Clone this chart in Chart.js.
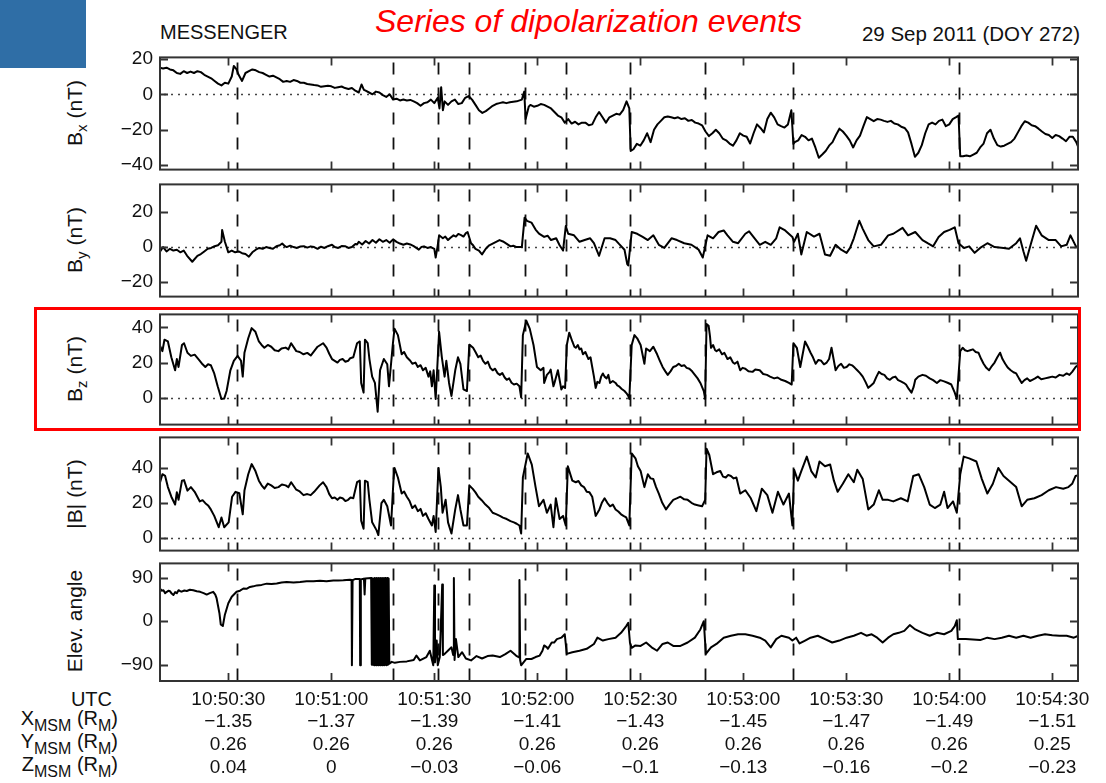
<!DOCTYPE html>
<html>
<head>
<meta charset="utf-8">
<script src="https://cdn.jsdelivr.net/npm/chart.js@4.4.1/dist/chart.umd.min.js"></script>
<style>
  html, body { margin: 0; padding: 0; background: #fff; }
  #wrap { position: relative; width: 1106px; height: 783px; overflow: hidden;
          font-family: 'Liberation Sans', Arial, sans-serif; color: #111; }
  #wrap canvas { position: absolute; left: 0; }
  .txt { position: absolute; white-space: nowrap; }
  .ytitle { position: absolute; white-space: nowrap; font-size: 21px;
            transform: translate(-50%, -50%) rotate(-90deg); }
  .ytitle sub { font-size: 15px; line-height: 0; vertical-align: -5px; }
  .rowlab sub { font-size: 16px; line-height: 0; vertical-align: -6px; }
  .rowlab { position: absolute; right: 988px; font-size: 20px; line-height: 23px;
            text-align: right; white-space: nowrap; }
</style>
</head>
<body>
<div id="wrap">
  <div style="position:absolute;left:0;top:0;width:86px;height:68px;background:#2f6ea6"></div>
  <div class="txt" style="left:160px;top:21px;font-size:20px">MESSENGER</div>
  <div class="txt" style="left:375px;top:3px;font-size:32px;font-style:italic;color:#f00">Series of dipolarization events</div>
  <div class="txt" style="right:26px;top:22px;font-size:20.5px">29 Sep 2011 (DOY 272)</div>

  <div class="ytitle" style="left:75px;top:113px">B<sub>x</sub> (nT)</div>
  <div class="ytitle" style="left:75px;top:240px">B<sub>y</sub> (nT)</div>
  <div class="ytitle" style="left:75px;top:369px">B<sub>z</sub> (nT)</div>
  <div class="ytitle" style="left:75px;top:494px">|B| (nT)</div>
  <div class="ytitle" style="left:75px;top:621px">Elev. angle</div>

  <div class="rowlab" style="top:688px;right:994px">UTC</div>
  <div class="rowlab" style="top:707px">X<sub>MSM</sub> (R<sub>M</sub>)</div>
  <div class="rowlab" style="top:730px">Y<sub>MSM</sub> (R<sub>M</sub>)</div>
  <div class="rowlab" style="top:753px">Z<sub>MSM</sub> (R<sub>M</sub>)</div>

  <div style="position:absolute;left:34px;top:307px;width:1047px;height:124px;border:3px solid #f00;box-sizing:border-box;z-index:5"></div>
</div>

<script>
// time in seconds after 10:50:00 UTC
const tMin = 10.1, tMax = 277.5;
const tickTimes = [30, 60, 90, 120, 150, 180, 210, 240, 270];
const utcLabels = ['10:50:30', '10:51:00', '10:51:30', '10:52:00', '10:52:30', '10:53:00', '10:53:30', '10:54:00', '10:54:30'];
const xMsm = [-1.35, -1.37, -1.39, -1.41, -1.43, -1.45, -1.47, -1.49, -1.51];
const yMsm = [0.26, 0.26, 0.26, 0.26, 0.26, 0.26, 0.26, 0.26, 0.25];
const zMsm = [0.04, 0, -0.03, -0.06, -0.1, -0.13, -0.16, -0.2, -0.23];
const eventTimes = [32.4, 77.9, 91.0, 100.2, 116.4, 128.4, 146.9, 168.9, 194.5, 242.7];

const bxTicks = [20, 0, -20, -40];
const byTicks = [20, 0, -20];
const bzTicks = [40, 20, 0];
const bmTicks = [40, 20, 0];
const elTicks = [90, 0, -90];

// [time, nT]
const bx = [[10,15],[11,14.5],[12,15],[13,14],[14,13.5],[15,12],[16,11.5],[17,13],[18,12],[19,12.8],[20,12],[21,13],[22,12.5],[23,11],[24,10],[25,9],[26,7.5],[27,6],[28,5],[29,6.5],[30,6],[31,10],[31.6,16],[32.4,14],[33,11],[34,7.5],[35,12],[36,13],[37,14],[38,13.5],[39,12.5],[40,12],[41,11],[42,10],[43,10.5],[44,9.5],[45,8.5],[46,7],[47,7.5],[48,7],[49,8],[50,7.5],[51,6.5],[52,6.5],[53,5.8],[54,5.5],[55,5.2],[56,5],[57,4.2],[58,4.5],[59,4.8],[60,4.5],[61,3.6],[62,4],[63,4.4],[64,3.5],[65,3],[66,3.5],[67,2],[68,1],[68.8,5.5],[69.5,2.5],[70,2],[71,1],[72,0],[73,1.5],[74,1],[75,-0.5],[76,-1.5],[77,0],[78,-3],[79,-2.5],[80,-3.5],[81,-3],[82,-3.5],[83,-3.2],[84,-4],[85,-5],[86,-6.5],[87,-5],[88,-4.5],[89,-3],[90,-5],[91,-2],[91.5,-8],[92,4],[92.5,-9],[93,-4],[94,-6],[95,-4],[96,-3],[97,-5.5],[98,-5],[99,-2],[100,-1],[101,-3],[102,-6],[103,-9],[104,-10.5],[105,-9.5],[106,-8],[107,-6.5],[108,-5.5],[109,-5],[110,-4.5],[111,-5],[112,-4.5],[113,-4.2],[114,-4],[115.5,-3],[116.2,1.5],[116.6,-14],[117.5,-7],[118,-6],[119,-7],[120,-6.5],[121,-5.5],[122,-6],[123,-7],[124,-8],[125,-10],[126,-12],[127,-13],[128,-16],[129,-14],[130,-16.5],[131,-15.5],[132,-17],[133,-16],[134,-16],[135,-17.5],[136,-17],[137,-13],[138,-10],[139,-13],[140,-16],[141,-13],[142,-12],[143,-11],[144,-11.5],[145,-9],[146,-4],[146.8,-8],[147.2,-32],[148,-31],[149,-28],[150,-29],[151,-26],[152,-22],[153,-27],[154,-20],[155,-17],[156,-15],[157,-13],[158,-12.5],[159,-13],[160,-13.5],[161,-13],[162,-14],[163,-13.5],[164,-15],[165,-14.5],[166,-16],[167,-16.5],[168,-17.5],[169,-21],[170,-23.6],[171,-22],[172,-20],[173,-22],[174,-25],[175,-26],[176,-27.8],[177,-29],[178,-26],[179,-22],[180,-23.3],[181,-24],[182,-27.8],[183,-22],[184,-17],[185,-19],[186,-21.5],[187,-14],[188,-10.4],[189,-13],[190,-17],[191,-18],[192,-18.8],[193,-17],[194,-9],[194.6,-28],[195,-27],[196,-26],[197,-23],[198,-24],[199,-26],[200,-25],[201,-30],[202,-35.8],[203,-34],[204,-32],[205,-29],[206,-27],[207,-23],[208,-19.4],[209,-21],[210,-23.3],[211,-26],[212,-30],[213,-26],[214,-23.3],[215,-18],[216,-12.9],[217,-14],[218,-15.2],[219,-14],[220,-14.3],[221,-15],[222,-15.6],[223,-15],[224,-16.5],[225,-17],[226,-18.3],[227,-19],[228,-21.5],[229,-28],[230,-35.3],[231,-33],[232,-28.7],[233,-22],[234,-17],[235,-16],[236,-17],[237,-15],[238,-14.3],[239,-18],[240,-17],[241,-14],[242,-12.9],[242.7,-12],[243.2,-35],[244,-35],[245,-34.5],[246,-35],[247,-34],[248,-33],[249,-30],[250,-27.8],[251,-22],[252,-20],[253,-25],[254,-28.7],[255,-29.5],[256,-29],[257,-28],[258,-27],[259,-25],[260,-21.5],[261,-18],[262,-15.2],[263,-16],[264,-17.5],[265,-18],[266,-19.4],[267,-21],[268,-22.4],[269,-23],[270,-24.7],[271,-23],[272,-23.6],[273,-25],[274,-26.5],[275,-24],[276,-24],[277,-27],[278,-32]];

const by = [[10,-3],[11,0],[12,-2.5],[13,-1],[14,-2],[15,-1.5],[16,-3],[17,-2],[18,-5],[19.5,-8.4],[21,-5],[22,-4],[23,-2.5],[24,-1],[25,-0.5],[26,0.5],[27,1],[28,3],[28.2,9.8],[29,3],[30,-3],[31,-2],[32,-3],[33,-2.5],[34,-3.5],[35,-4],[36,-5.5],[37,-3],[38,-1.5],[39,-0.5],[40,-1],[41,0],[42,-0.5],[43,-1],[44,0.5],[45,1],[45.7,2],[46.5,0.5],[47,0],[48,0.8],[49,0],[50,-0.5],[51,0.3],[52,0.5],[53,-0.3],[54,0.4],[55,0],[56,-1],[57,0.2],[58,-0.5],[59,0.5],[60.2,1.3],[61,0],[62,-0.5],[63,0.6],[64,0.5],[65,-0.5],[66,0],[67,1.8],[67.5,1.5],[68,3],[69,1.5],[70,3.5],[71,2],[72,4],[73,2.5],[74,4.5],[75,3],[76,4],[77,2.5],[78,4.4],[79,3],[80,2],[81,1.3],[82,2],[83,1.5],[84,0.5],[85.5,-1.5],[86.2,0],[87,0.4],[88,-0.5],[89,0],[90,-1],[90.4,-6],[91,1],[91.4,6.7],[92.5,5],[93.2,6],[94,4],[94.8,5.5],[95.6,6.7],[96.3,6],[97,7.5],[97.8,6.8],[98.5,6],[99.2,8],[99.7,8.6],[100.7,2.2],[101.3,1],[102,-1],[103,-2],[103.9,-4.2],[105,-1],[106,1],[107,2],[108,3],[109,4],[110,3.2],[111,2],[112.2,0.4],[113,0.8],[114,0],[115.5,0],[116.3,16.8],[117,15],[118.3,14],[119.5,10],[120.5,7.7],[122,5.8],[123,6.5],[124,4],[125.5,5],[126.5,1],[127.5,-2],[128.3,12],[129,7.6],[130.7,6.7],[132.3,3],[133.8,4],[135.4,5],[136.5,2.2],[138,-5],[139.6,5],[141.2,5],[142.8,4],[143.8,1.8],[145.4,-1.5],[146.2,-9.7],[146.5,-10.5],[147.5,8.6],[149.1,7.6],[150.7,5.8],[152.2,4],[153.8,6.7],[155.4,1.3],[157,-0.5],[159.1,5],[160.7,4],[162.8,2.2],[164.9,1.3],[167,-1.5],[168.2,-6],[169.6,6.7],[171.2,5],[172.8,8.6],[174.3,9.5],[175.4,6.7],[177,3],[178.5,2.2],[180.6,7.6],[181.7,9],[183.3,5],[184.8,1.3],[186.4,3],[188,1.3],[189.6,5],[190.6,11.3],[192.2,9.5],[194.3,5.8],[194.8,3],[195.9,7.6],[196.9,-4.2],[198.5,8.6],[200.6,6],[202.2,7.6],[203.8,-4.2],[205.3,-5],[206.9,1.3],[208.5,-1.5],[210.1,-3.3],[211.1,-0.5],[212.2,5],[213.8,15],[214.8,10.4],[216.4,4],[218,0.4],[220.1,1.3],[222.2,6.7],[223.7,7.6],[226.4,11],[228,6.7],[230.1,8.6],[232.2,4],[233.7,2.2],[235.3,0.4],[236.9,5.8],[238.5,8.6],[240.1,9.8],[241.6,11.3],[242.7,2.2],[244.3,-0.5],[245.8,0.4],[247.4,-3.3],[249,-0.5],[251.1,2.2],[253.2,0],[255.8,-0.5],[257.4,-1],[259.5,2.2],[260.6,5],[261.6,-2.4],[262.4,-7.8],[263.7,1.3],[265.3,12.2],[266.9,6.7],[269,4],[271,4],[272.6,0.4],[274.2,1.3],[275.3,6.7],[276.9,0.4],[278,0]];

const bz = [[10,30],[10.8,26.5],[11.4,33],[12.4,32],[13.4,23],[14.5,15.6],[15,22],[15.5,17.5],[16.5,30],[17.1,31],[18.1,25.6],[19.1,23.8],[20.2,24.5],[21.7,21],[22.5,19],[23.3,17.5],[24.1,19],[24.9,18.5],[25.9,13.8],[26.9,6.5],[28,-0.7],[28.8,-0.5],[29.5,3.8],[30.6,15.6],[31.6,21],[32.7,23.8],[33.7,21],[34.2,12],[34.7,25.6],[35.8,33.8],[36.8,39.6],[37.9,37.5],[38.9,32],[39.7,30],[40.5,28.4],[41.5,30],[42.5,29],[43.5,27],[44.6,26.5],[45.5,28],[46.7,28.5],[47.5,27.5],[48.3,31],[49.8,26.5],[50.8,26],[51.9,24.7],[53,25.5],[54,24],[55,26.5],[56,29],[57.6,31],[58.6,28.5],[59.4,25],[60.2,22],[61.8,20],[62.5,21.5],[63.3,22],[64.1,20.5],[64.9,21],[65.5,22.5],[66.4,23],[67.5,31],[68.3,32],[68.7,8.4],[69.4,2.9],[69.8,33],[70.6,31],[71.1,22],[71.9,12],[72.7,8.4],[73.5,-8],[74.2,15.6],[75.3,22],[76.3,19],[76.8,6.5],[77.9,30],[78.4,39.3],[79.4,35.6],[80.5,24.7],[81.2,26],[82,23],[83,21],[83.6,19.3],[84.5,20],[85.2,17.5],[86,18.5],[86.7,15.6],[87.5,17],[88.3,12],[88.8,15],[89.3,6.5],[89.8,15.6],[90.4,-0.7],[91.4,37.5],[92.2,23],[93,12],[93.5,21],[94.3,8.4],[95,1],[96.1,15.6],[96.9,23],[97.6,19.3],[98.5,4.7],[99.5,3.8],[100.2,30.2],[101.3,28.4],[102,26],[102.8,23],[103.5,24],[104.2,21],[104.9,19.3],[105.6,20.5],[106.3,17],[107,15.6],[107.7,16.5],[108.4,14],[109.1,13],[109.8,14],[110.5,11.5],[111.1,10.2],[111.8,11],[112.5,8.5],[113.2,7.5],[114,8],[114.8,6.5],[115.3,0.2],[115.8,35.6],[116.8,43.8],[117.8,39.3],[118.9,30],[119.9,17.5],[121,15.6],[121.8,17],[122,8.4],[122.8,13],[123.6,14.7],[123.9,16],[124.7,6.5],[125,8.4],[126,15.6],[127,4.7],[127.5,6.5],[128.1,5.5],[128.6,30],[129.3,37],[130.2,32],[130.8,29],[131.2,28.4],[131.8,30],[132.3,27.5],[132.8,28],[133.3,24.7],[134,26],[134.9,22],[135.5,23],[136,17.5],[136.5,12],[137,5.6],[137.5,9],[138.1,8.4],[138.6,12],[139.1,13.8],[139.6,12],[140.2,11],[140.7,13],[141.2,8.4],[142,9.5],[142.8,8.4],[143.3,7],[143.8,6.5],[144.6,5],[145.4,3.8],[146,2.5],[146.5,1],[146.8,-0.7],[147.5,30],[148.3,35.6],[149.1,33.8],[150.1,30],[151.2,19.3],[151.7,28],[152.8,26.5],[153.8,29],[154.9,24.7],[155.7,21],[156.5,17.5],[157.3,15],[158,13],[158.8,15],[159.6,17.5],[160.4,18],[161.2,19.3],[162,18],[162.8,18.5],[163.5,17],[164.3,16.5],[165.1,15],[165.9,13],[166.7,11],[167.5,8.4],[168.5,3.8],[168.9,-0.7],[169.3,42],[169.9,41],[170.3,35],[170.6,28.4],[171.2,30],[171.8,27],[172.2,26.5],[173,27.5],[173.8,24.7],[174.5,25.5],[175.4,22],[176.2,23],[177,20],[177.5,19.3],[178.3,20.5],[179.1,15.6],[179.8,17],[180.6,16.5],[181.5,15],[182.7,14.7],[183.5,16],[184.8,15.6],[185.8,13.5],[186.9,13],[187.8,12],[189,11],[190,11.5],[191.1,10.2],[192.2,9.5],[193.3,8.4],[194.1,7.5],[194.6,31],[195.6,28.4],[196.6,17.5],[198,32],[198.8,29],[199.6,25.6],[200.3,23],[201.1,19.3],[201.9,21.5],[202.7,21],[203.5,19],[204.3,20],[205,22],[205.7,28.4],[206.3,22],[206.9,15.6],[207.7,18],[208.5,19.3],[209.3,17],[210.1,17.5],[210.9,19],[211.7,18.4],[212.5,17],[213.2,15.6],[214,14],[214.8,12],[215.6,9],[216.4,5.6],[217.2,7],[218,8.4],[218.8,12],[219.5,14.7],[220.3,13.5],[221.1,13],[221.9,11],[222.7,10.2],[223.5,11.5],[224.3,12],[225.1,10],[225.9,9.3],[226.7,8.5],[227.4,7.5],[228.2,5],[229,2.9],[229.6,6],[230.1,10.2],[231,12],[232.2,13],[233.2,12.5],[234.3,11],[235.3,10],[236.4,8.4],[237.4,10],[238.5,9.3],[239.5,8.5],[240.6,7.5],[241.6,2.9],[242.2,-0.7],[243.2,26.5],[243.9,28.4],[244.6,27],[245.3,26.5],[246.1,27],[246.9,27.5],[247.7,26],[248.5,25.6],[249.3,22],[250,19.3],[250.8,17],[251.6,15.6],[252.4,18],[253.2,20],[254,23],[254.8,25.6],[255.5,22],[256.3,19.3],[257.1,17],[257.9,15.6],[258.7,14.5],[259.5,13.8],[260.3,11],[261.1,8.4],[261.9,10],[262.7,11],[263.5,9.5],[264.2,10.2],[265,11],[265.8,12],[266.8,10.5],[267.9,11],[269,11.5],[270,12],[271,11.5],[272.1,13],[273.2,12.5],[274.2,13.8],[275,13],[275.8,14.7],[276.8,17.5],[278,19]];

const bmag = [[10,30.9],[10.8,36.4],[11.6,35.4],[12.4,29],[13.4,23.5],[14.5,19],[15,26],[15.5,21.7],[16.5,32.7],[17.1,33],[18.1,27],[19.1,29],[20.2,26.3],[21.7,20.8],[22.5,21.5],[23.3,19.8],[24.1,18.5],[24.9,16.2],[25.9,12.5],[27.2,6],[28,11.6],[28.8,6],[30.1,8.8],[31.1,23.5],[32.1,26.3],[33.2,25.5],[34.2,13.4],[34.7,27],[35.8,36.4],[36.8,42.2],[37.9,38.2],[38.9,32.7],[39.7,30],[40.5,28.1],[41.5,31],[42.5,30],[43.5,28.5],[44.6,29],[45.6,30.5],[46.7,30],[47.5,29],[48.3,31.8],[49.8,27.5],[50.8,26.5],[51.9,24.4],[53,25],[54,24.4],[55,26.3],[56.6,30],[57.6,31.8],[58.6,29],[59.4,25],[60.2,22.6],[61,23],[61.8,21.7],[62.5,23],[63.3,22.6],[64.1,21],[64.9,21.7],[65.6,23],[66.4,22.6],[67.5,31.8],[68.3,32.7],[68.7,9.7],[69.4,5.1],[69.8,32.7],[70.6,31.8],[71.1,21.7],[71.9,8.8],[73.2,4.2],[73.7,1.5],[74.6,19.8],[75.3,21.7],[76.3,18],[77.4,7],[78.1,32.7],[78.4,40],[79.4,34.5],[80.5,25.3],[81.2,26.5],[82,23.5],[82.8,21],[83.6,17],[84.4,18.5],[85.2,15.2],[86,16.5],[86.7,12.5],[87.5,14],[88.3,10.7],[89.3,7],[89.8,12.5],[90.4,3.3],[91.2,40],[91.9,29],[92.4,14.3],[93.3,21.7],[94,8.8],[95,2.4],[96.1,16.2],[96.9,24.4],[97.6,16.2],[98.5,7],[99.5,7],[100.2,30],[101.2,28],[102,26],[102.8,23.5],[103.8,21.5],[104.9,19],[106,17],[107,14.3],[108,13.5],[109.1,12.5],[110,11.5],[111.1,10.7],[112.2,9.5],[113.2,8.8],[114,8],[114.8,7],[115.3,2.4],[115.8,34.5],[117.2,48.3],[118.4,41.9],[119.5,29],[120.5,18],[121.8,21.7],[122.8,14.3],[123.9,19],[124.7,6],[125.4,22.6],[126.5,10.7],[127.5,12.5],[128.3,7],[128.9,41],[130.2,32.7],[131.2,31.8],[132,32.5],[132.8,30],[133.6,29],[134.4,26.3],[135.2,26],[136,23.5],[137,12.5],[138.1,16.2],[138.8,20],[139.6,22.6],[140.4,20],[141.2,18],[142,19],[142.8,16.2],[143.6,15],[144.4,13.4],[145.1,12.5],[145.9,11.6],[146.8,7],[147.5,48.3],[148.6,45.5],[149.3,41],[150.1,38.2],[151.2,29],[152.2,36.4],[153,34],[153.8,33.6],[154.6,29],[155.4,25.3],[156.4,20],[157.5,16.2],[158.5,19],[159.6,21.7],[160.6,22.5],[161.7,23.5],[162.8,22],[163.8,21.7],[164.9,20],[165.9,19],[167,18.5],[168,18],[168.9,21.7],[169.3,51],[170.1,47.4],[171.2,36.4],[172.2,37.5],[173.3,38.2],[174.1,35],[174.9,34.5],[175.6,36],[176.4,35.4],[177.2,34],[178,34.5],[179.1,25.3],[180.6,27.2],[182.2,22.6],[183.8,15.2],[185.4,28.1],[187,24.4],[188.5,14.3],[190.1,26.3],[191.7,19],[193.3,25.3],[194.3,7],[194.8,39],[195.9,32.7],[196.9,38.2],[198.5,46.5],[199.8,38.2],[201.1,34.5],[202.2,43.7],[203.8,41],[205.3,42],[206.4,32.7],[207.5,26.3],[209,30.9],[210.6,36.4],[212.2,31.8],[213.2,39],[214.8,33.6],[216.4,16.2],[218,19],[219.5,27.2],[220.6,21.7],[222.2,21.7],[223.7,20.8],[225.9,22.6],[227.9,20.8],[229.5,35.4],[231.1,36.4],[232.7,29],[234.3,19],[235.8,17],[237.4,19],[238.5,26.3],[239.5,17],[241.1,20.8],[242.2,14.3],[243.2,36.4],[244.2,46.5],[245.8,45.5],[247.9,43.7],[249.5,33.6],[251.1,25.3],[252.7,30.9],[254.3,40],[255.8,35.4],[257.4,32.7],[259.5,29],[261.1,18],[262.7,21.7],[264.8,22.6],[266.9,24.4],[269,27.2],[271.1,29],[273.2,28.1],[274.7,29],[275.8,30.9],[276.8,35.4],[278,36]];

// [time, degrees]
const elev = [[10.1,67.5],[10.6,63],[11.1,64],[11.6,58],[12.1,60.7],[12.6,63],[13,62],[13.5,57],[14,54],[14.5,60],[15,58],[15.5,64],[16,62],[16.4,61],[17.2,63.5],[17.9,62.5],[18.8,65],[19.8,64],[20.8,62],[21.8,60.7],[22.8,58],[23.7,55],[24.6,58],[25.6,60.7],[26.2,55],[26.6,47],[27.4,17],[27.8,-6.7],[28.4,-10],[29,13.5],[30,37],[31,50.6],[32.4,60.7],[33.4,63],[34.4,67.5],[35.3,67],[36.3,70.8],[37.3,72],[38.3,74],[39.7,75],[41.2,77.6],[42.6,77],[44.1,78],[45.5,80],[47,81],[49,80],[50.9,81],[52.8,82.5],[54.8,82.3],[56.7,83.5],[58.6,82.5],[60.6,84.3],[62,84],[63.5,84.5],[65.4,85.7],[65.9,85],[66.0,-91],[66.2,85],[66.9,87],[68.3,87],[68.4,-91],[68.6,86],[69.5,88],[69.7,55],[69.9,88],[71.6,89],
  [71.8,-90],[72.0,88],[72.2,-90],[72.35,88],[72.5,-91],[72.65,89],[72.8,-90],[72.95,88],[73.1,-91],[73.25,89],[73.4,-90],[73.55,88],[73.7,-91],[73.85,89],[74.0,-90],[74.15,88],[74.3,-91],[74.45,89],[74.6,-90],[74.75,88],[74.9,-91],[75.05,89],[75.2,-90],[75.35,88],[75.5,-91],[75.65,89],[75.8,-90],[75.95,88],[76.1,-91],[76.3,89],[76.5,-90],[76.7,88],[76.9,-88],
  [77.6,-84],[78.5,-86],[80,-84],[82,-83],[84,-80],[84.8,-71],[85.8,-81],[87.7,-74],[88.7,-61],[89.7,-91],[90,74],[90.2,-85],[90.7,-40],[91,-91],[91.6,-74],[92.3,75.6],[92.5,-70],[93.1,-67],[94.1,-60],[95,-54],[95.5,-70],[95.7,89],[95.9,-80],[96.3,-37],[97,-74],[98.1,-64],[99.2,-77],[100.7,-81],[102.3,-72],[103.9,-77],[105.5,-72],[107,-71],[109.1,-74],[110.7,-68],[112.2,-61],[113.8,-71],[114.7,-75],[114.8,85],[115,-80],[115.3,-91],[116.8,-78],[118.3,-78],[119.5,-74],[120.7,-71],[121.5,-61],[122,-50],[122.8,-54],[123.1,-57],[124.2,-44],[124.9,-44],[125.7,-37],[127,-34],[128,-27],[128.6,-67.5],[130.2,-64],[132.3,-61],[134.4,-57],[136.5,-47],[137.5,-34],[139.1,-40],[140.7,-37],[142.8,-34],[144.4,-24],[145.9,-10],[146.5,-3.4],[147,-45],[147.5,-55],[148.6,-50],[150.1,-51],[151.7,-44],[153.3,-54],[154.9,-61],[156.5,-47],[158,-44],[159.6,-51],[161.7,-51],[163.8,-44],[165.9,-34],[167.5,-17],[168.5,0],[169.1,-67.5],[170.6,-54],[172.2,-47],[174.3,-34],[176.4,-30],[178.5,-27],[180.6,-27],[182.7,-30],[184.8,-34],[186.4,-40],[188,-54],[189.6,-37],[191.1,-30],[193.3,-34],[194.3,-40],[195.4,-34],[196.4,-46],[198,-40],[199.6,-34],[201.7,-30],[203.8,-37],[205.9,-44],[208,-40],[210.1,-34],[212.2,-30],[214.3,-24],[215.9,-30],[217.4,-27],[219,-34],[220.6,-44],[222.2,-34],[223.7,-27],[225.3,-24],[226.9,-20],[228.5,-8],[230.1,-17],[232.2,-24],[234.3,-30],[236.4,-24],[238.5,-27],[240.6,-20],[241.6,-10],[242.2,2],[242.5,-37],[244.8,-37],[246.9,-38],[249,-39],[251.1,-34],[253.2,-37],[255.3,-34],[257.4,-30],[259.5,-34],[261.6,-30],[263.7,-34],[265.8,-30],[267.9,-27],[270,-29],[272.1,-30],[274.2,-30],[276.3,-34],[277.6,-30]];

const fmt = v => (v < 0 ? '\u2212' : '') + Math.abs(v);
const FONT = "'Liberation Sans', Arial, sans-serif";
Chart.defaults.font.family = FONT;
Chart.defaults.color = '#111';

// boxes, inward ticks, dotted zero line and dashed event lines
const panelDecor = {
  id: 'panelDecor',
  beforeDatasetsDraw(chart, args, opts) {
    const { ctx, chartArea: a, scales } = chart;
    ctx.save();
    ctx.beginPath();
    ctx.rect(a.left, a.top, a.width, a.height);
    ctx.clip();
    if (opts.zero) {
      const y0 = Math.round(scales.y.getPixelForValue(0)) + 0.5;
      ctx.setLineDash([2, 5]);
      ctx.lineWidth = 1.6;
      ctx.strokeStyle = '#444';
      ctx.beginPath();
      ctx.moveTo(a.left + 4, y0);
      ctx.lineTo(a.right, y0);
      ctx.stroke();
    }
    ctx.setLineDash([12, 13]);
    ctx.lineWidth = 1.8;
    ctx.strokeStyle = '#111';
    eventTimes.forEach(t => {
      const px = Math.round(scales.x.getPixelForValue(t)) + 0.5;
      ctx.beginPath();
      ctx.moveTo(px, a.top + 5);
      ctx.lineTo(px, a.bottom);
      ctx.stroke();
    });
    ctx.restore();
  },
  afterDatasetsDraw(chart) {
    const { ctx, chartArea: a, scales } = chart;
    ctx.save();
    ctx.strokeStyle = '#333';
    ctx.lineWidth = 2;
    ctx.strokeRect(a.left, a.top, a.width, a.height);
    ctx.lineWidth = 1.8;
    ctx.beginPath();
    tickTimes.forEach(t => {
      const px = Math.round(scales.x.getPixelForValue(t)) + 0.5;
      ctx.moveTo(px, a.top); ctx.lineTo(px, a.top + 8);
      ctx.moveTo(px, a.bottom); ctx.lineTo(px, a.bottom - 8);
    });
    scales.y.ticks.forEach(tk => {
      const py = Math.round(scales.y.getPixelForValue(tk.value)) + 0.5;
      ctx.moveTo(a.left, py); ctx.lineTo(a.left + 8, py);
      ctx.moveTo(a.right, py); ctx.lineTo(a.right - 8, py);
    });
    ctx.stroke();
    ctx.restore();
  }
};

const panels = [
  { data: bx,   top: 55,  bottom: 172, min: -42.5, max: 20.8,  ticks: bxTicks, zero: true },
  { data: by,   top: 182, bottom: 299, min: -28.3, max: 35.8,  ticks: byTicks, zero: true },
  { data: bz,   top: 312, bottom: 427, min: -15.3, max: 47.4,  ticks: bzTicks, zero: true },
  { data: bmag, top: 435, bottom: 553, min: -7.4,  max: 57.5,  ticks: bmTicks, zero: true },
  { data: elev, top: 561, bottom: 681, min: -123.5, max: 119.4, ticks: elTicks, zero: false, last: true }
];

const wrap = document.getElementById('wrap');
panels.forEach(p => {
  const pad = 16;
  const canvas = document.createElement('canvas');
  const h = p.last ? 783 - (p.top - pad) : (p.bottom - p.top) + 2 * pad;
  canvas.width = 1106;
  canvas.height = h;
  canvas.style.top = (p.top - pad) + 'px';
  canvas.style.width = '1106px';
  canvas.style.height = h + 'px';
  wrap.appendChild(canvas);

  new Chart(canvas, {
    type: 'line',
    data: {
      datasets: [{
        data: p.data.map(d => ({ x: d[0], y: d[1] })),
        borderColor: '#000',
        borderWidth: 2,
        borderJoinStyle: 'round',
        pointRadius: 0,
        tension: 0,
        fill: false
      }]
    },
    options: {
      responsive: false,
      animation: false,
      events: [],
      devicePixelRatio: 1,
      layout: { padding: { top: pad, bottom: p.last ? 0 : pad, left: 0, right: 28 } },
      plugins: {
        legend: { display: false },
        tooltip: { enabled: false },
        panelDecor: { zero: p.zero }
      },
      scales: {
        x: {
          type: 'linear',
          min: tMin,
          max: tMax,
          display: !!p.last,
          grid: { display: false, drawTicks: false },
          border: { display: false },
          afterBuildTicks: s => { s.ticks = tickTimes.map(v => ({ value: v })); },
          afterFit: s => { if (p.last) s.height = 783 - p.bottom; },
          ticks: {
            autoSkip: false,
            maxRotation: 0,
            padding: 7,
            color: '#111',
            font: { size: 19, family: FONT },
            callback: v => {
              const i = tickTimes.indexOf(v);
              return [utcLabels[i], fmt(xMsm[i]), fmt(yMsm[i]), fmt(zMsm[i])];
            }
          }
        },
        y: {
          min: p.min,
          max: p.max,
          grid: { display: false, drawTicks: false },
          border: { display: false },
          afterBuildTicks: s => { s.ticks = p.ticks.map(v => ({ value: v })); },
          afterFit: s => { s.width = 160; },
          ticks: {
            padding: 7,
            color: '#111',
            font: { size: 19, family: FONT },
            callback: v => fmt(v)
          }
        }
      }
    },
    plugins: [panelDecor]
  });
});
</script>
</body>
</html>
